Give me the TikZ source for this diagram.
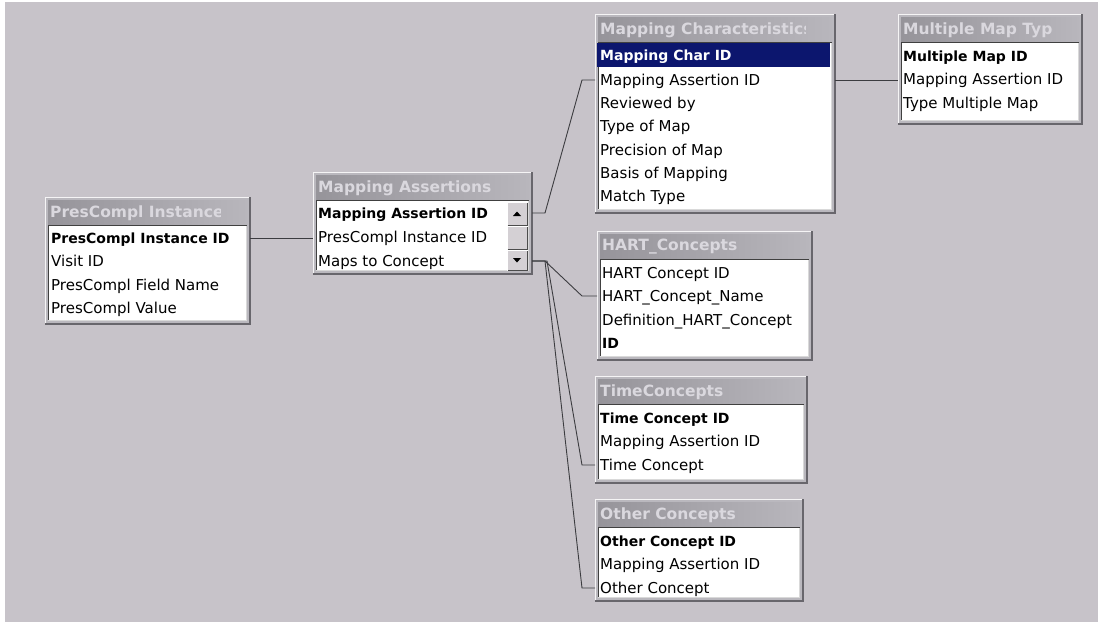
\documentclass[tikz,border=0pt]{standalone}
\usepackage{fontspec}
\setmainfont{DejaVu Sans}
\usetikzlibrary{calc}
\definecolor{bg}{RGB}{199,195,201}
\definecolor{framegray}{RGB}{186,184,190}
\definecolor{framedark}{RGB}{104,102,108}
\definecolor{titleL}{RGB}{150,148,154}
\definecolor{titleR}{RGB}{184,182,188}
\definecolor{titletxt}{RGB}{218,216,222}
\definecolor{conngray}{RGB}{60,60,64}
\definecolor{selblue}{RGB}{12,22,110}
\definecolor{btnface}{RGB}{212,208,212}
\newcommand{\rg}{\fontsize{15}{17}\selectfont}
\newcommand{\bd}{\fontsize{14}{17}\selectfont\bfseries}
\tikzset{
  tblframe/.style={fill=framegray, inner sep=0pt, outer sep=0pt},
  rowtext/.style={anchor=west, inner xsep=0pt, inner ysep=0pt, text height=11pt, text depth=0pt, font=\rg, text=black},
  titletext/.style={anchor=west, inner sep=0pt, font=\fontsize{15.5}{17}\selectfont\bfseries, text=titletxt},
  conn/.style={draw=conngray, line width=0.9pt},
  hilite/.style={draw=white!85!framegray, line width=1pt},
  shadowedge/.style={draw=framedark, line width=1.8pt},
}
% #1 name, #2 L, #3 T, #4 R, #5 B, #6 title
\newcommand{\dbtable}[6]{%
  \node[tblframe, anchor=north west, minimum width=#4-#2, minimum height=#5-#3] (#1) at (#2,#3) {};
  \draw[hilite] (#1.south west) -- (#1.north west) -- (#1.north east);
  \draw[shadowedge] (#1.north east) -- (#1.south east) -- (#1.south west);
  \shade[left color=titleL, right color=titleR] (#2+3,#3+3) rectangle (#4-3,#3+28);
  \begin{scope}
    \clip (#2+3,#3+3) rectangle (#4-30,#3+28);
    \node[titletext] (#1-t) at (#2+5,#3+16) {#6};
  \end{scope}
  \fill[white] (#2+3,#3+29) rectangle (#4-3,#5-3);
  \draw[black!75, line width=1.2pt] (#2+3,#3+28.6) -- (#4-3,#3+28.6);
  \draw[black!75, line width=1pt] (#2+3.5,#3+29) -- (#2+3.5,#5-3);
  \draw[white!70!gray, line width=0.8pt] (#2+3,#5-3.4) -- (#4-3.4,#5-3.4) -- (#4-3.4,#3+29);
}
\begin{document}
\begin{tikzpicture}[x=1pt,y=-1pt]
\useasboundingbox (0,0) rectangle (1098,622);
\fill[white] (0,0) rectangle (1098,622);
\fill[bg] (5,2) rectangle (1098,622);

% ---------- PresCompl Instances
\dbtable{pc}{45}{197}{250}{324}{PresCompl Instances}
\node[rowtext] (pc-1) at (51,238) {\bd PresCompl Instance ID};
\node[rowtext] (pc-2) at (51,261) {Visit ID};
\node[rowtext] (pc-3) at (51,285) {PresCompl Field Name};
\node[rowtext] (pc-4) at (51,308) {PresCompl Value};

% ---------- Mapping Assertions
\dbtable{ma}{313}{172}{532}{274}{Mapping Assertions}
\node[rowtext] (ma-1) at (318,213) {\bd Mapping Assertion ID};
\node[rowtext] (ma-2) at (318,237) {PresCompl Instance ID};
\node[rowtext] (ma-3) at (318,261) {Maps to Concept};
% scrollbar
\fill[btnface] (507,202) rectangle (528,271);
\foreach \ya/\yb in {202/226, 226/250, 250/271}{
  \draw[white, line width=0.8pt] (507.5,\yb) -- (507.5,\ya+0.5) -- (527.5,\ya+0.5);
  \draw[black!70, line width=0.8pt] (507.5,\yb-0.5) -- (527.5,\yb-0.5) -- (527.5,\ya+0.5);
}
\fill[black] (513,216) -- (521,216) -- (517,211.5) -- cycle;
\fill[black] (513,258) -- (521,258) -- (517,262.5) -- cycle;

% ---------- Mapping Characteristics
\dbtable{mc}{595}{14}{835}{213}{Mapping Characteristics}
\fill[selblue] (597,43) rectangle (830,67);
\node[rowtext, text=white] (mc-1) at (600,55) {\bd Mapping Char ID};
\node[rowtext] (mc-2) at (600,80) {Mapping Assertion ID};
\node[rowtext] (mc-3) at (600,103) {Reviewed by};
\node[rowtext] (mc-4) at (600,126) {Type of Map};
\node[rowtext] (mc-5) at (600,150) {Precision of Map};
\node[rowtext] (mc-6) at (600,173) {Basis of Mapping};
\node[rowtext] (mc-7) at (600,196) {Match Type};

% ---------- Multiple Map Type
\dbtable{mm}{898}{14}{1082}{124}{Multiple Map Type}
\node[rowtext] (mm-1) at (903,56) {\bd Multiple Map ID};
\node[rowtext] (mm-2) at (903,79) {Mapping Assertion ID};
\node[rowtext] (mm-3) at (903,103) {Type Multiple Map};

% ---------- HART_Concepts
\dbtable{hc}{597}{231}{812}{360}{HART\_Concepts}
\node[rowtext] (hc-1) at (602,273) {HART Concept ID};
\node[rowtext] (hc-2) at (602,296) {HART\_Concept\_Name};
\node[rowtext] (hc-3) at (602,320) {Definition\_HART\_Concept};
\node[rowtext] (hc-4) at (602,343) {\bd ID};

% ---------- TimeConcepts
\dbtable{tc}{595}{376}{807}{483}{TimeConcepts}
\node[rowtext] (tc-1) at (600,418) {\bd Time Concept ID};
\node[rowtext] (tc-2) at (600,441) {Mapping Assertion ID};
\node[rowtext] (tc-3) at (600,465) {Time Concept};

% ---------- Other Concepts
\dbtable{oc}{595}{499}{803}{601}{Other Concepts}
\node[rowtext] (oc-1) at (600,541) {\bd Other Concept ID};
\node[rowtext] (oc-2) at (600,564) {Mapping Assertion ID};
\node[rowtext] (oc-3) at (600,588) {Other Concept};

% ---------- connectors
\draw[conn] (pc.east |- pc-1) -- (ma.west |- pc-1);
\draw[conn] (ma.east |- ma-1) -- ++(13,0) -- ($(mc.west |- mc-2)+(-13,0)$) -- (mc.west |- mc-2);
\draw[conn] (mc.east |- mc-2) -- (mm.west |- mc-2);
\draw[conn] (ma.east |- ma-3) -- ++(13,0) -- ($(hc.west |- hc-2)+(-15,0)$) -- (hc.west |- hc-2);
\draw[conn] (ma.east |- ma-3) -- ++(15,0) -- ($(tc.west |- tc-3)+(-13,0)$) -- (tc.west |- tc-3);
\draw[conn] (ma.east |- ma-3) -- ++(13,0) -- ($(oc.west |- oc-3)+(-13,0)$) -- (oc.west |- oc-3);
\end{tikzpicture}
\end{document}
